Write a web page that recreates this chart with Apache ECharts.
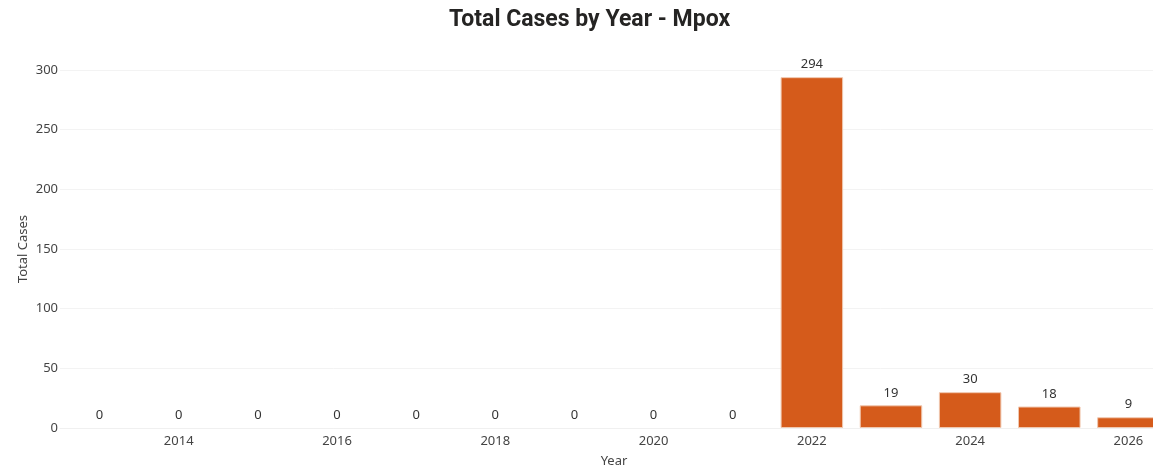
<!DOCTYPE html>
<html>
<head>
<meta charset="utf-8">
<script src="https://cdn.jsdelivr.net/npm/echarts@6/dist/echarts.min.js"></script>
<style>
html,body{margin:0;padding:0;background:#fff;}
#c{width:1153px;height:476px;}
</style>
</head>
<body>
<div id="c"></div>
<script>
const years = ['2013','2014','2015','2016','2017','2018','2019','2020','2021','2022','2023','2024','2025','2026'];
const totalCases = [0,0,0,0,0,0,0,0,0,294,19,30,18,9];
const yTicks = [0,50,100,150,200,250,300];

const chart = echarts.init(document.getElementById('c'));
chart.setOption({
  animation: false,
  backgroundColor: '#fff',
  title: {
    text: 'Total Cases by Year - Mpox',
    left: 444,
    top: 4,
    textStyle: {fontFamily: 'Roboto', fontWeight: 'bold', fontSize: 23, color: '#252423'}
  },
  grid: {left: 60, top: 70, width: 1108, bottom: 48, containLabel: false, outerBoundsMode: 'none'},
  xAxis: {
    type: 'category',
    data: years,
    name: 'Year',
    nameLocation: 'middle',
    nameGap: 27,
    nameTextStyle: {fontFamily: 'Noto Sans', fontSize: 13, color: '#444'},
    axisLine: {show: true, lineStyle: {color: '#f0f0f0'}},
    axisTick: {show: false},
    axisLabel: {
      interval: (i) => i % 2 === 1,
      fontFamily: 'Noto Sans', fontSize: 13, color: '#444', margin: 7
    }
  },
  yAxis: {
    type: 'value',
    min: yTicks[0],
    max: yTicks[yTicks.length - 1],
    interval: 50,
    name: 'Total Cases',
    nameLocation: 'middle',
    nameGap: 30,
    nameMoveOverlap: false,
    nameTextStyle: {fontFamily: 'Noto Sans', fontSize: 13, color: '#444'},
    axisLine: {show: false},
    axisTick: {show: false},
    axisLabel: {fontFamily: 'Noto Sans', fontSize: 13, color: '#444', margin: 2},
    splitLine: {lineStyle: {color: '#f3f3f3'}}
  },
  series: [{
    type: 'bar',
    data: totalCases.map(v => ({value: v, itemStyle: {borderWidth: v > 0 ? 1 : 0}})),
    barCategoryGap: '21%',
    itemStyle: {color: '#D55B1B', borderColor: '#f0c8b0'},
    label: {
      show: true, position: 'top', distance: 6,
      fontFamily: 'Noto Sans', fontSize: 13, color: '#333'
    }
  }]
});
</script>
</body>
</html>
